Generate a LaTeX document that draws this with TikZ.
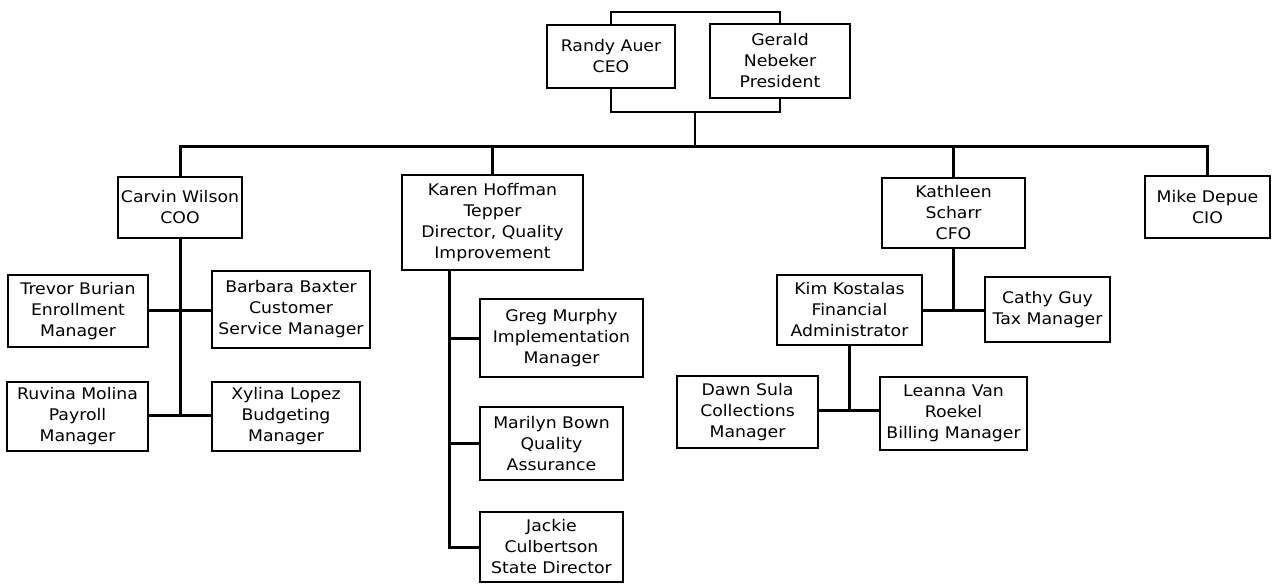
\documentclass[tikz,border=0pt]{standalone}
\usepackage{fontspec}
\setmainfont{DejaVu Sans}[FakeStretch=1.08]
\begin{document}
\begin{tikzpicture}[x=1pt,y=-1pt,
  box/.style={draw, line width=2.1pt, align=center, inner sep=1pt,
    font=\fontsize{16}{21}\selectfont},
  conn/.style={line width=3pt},
  thinconn/.style={line width=2pt}]
\useasboundingbox[fill=white] (0,0) rectangle (1278,584);
% boxes
\node[box, minimum width=128pt, minimum height=63pt] (ceo) at (611,56.5) {Randy Auer\\CEO};
\node[box, minimum width=140pt, minimum height=74pt] (pres) at (780,61) {Gerald\\Nebeker\\President};
\node[box, minimum width=124pt, minimum height=61pt] (coo) at (180,207.5) {Carvin Wilson\\COO};
\node[box, minimum width=140pt, minimum height=72pt] (trevor) at (78,311) {Trevor Burian\\Enrollment\\Manager};
\node[box, minimum width=158pt, minimum height=77pt] (barbara) at (291,309.5) {Barbara Baxter\\Customer\\Service Manager};
\node[box, minimum width=141pt, minimum height=69pt] (ruvina) at (77.5,416.5) {Ruvina Molina\\Payroll\\Manager};
\node[box, minimum width=148pt, minimum height=69pt] (xylina) at (286,416.5) {Xylina Lopez\\Budgeting\\Manager};
\node[box, minimum width=181pt, minimum height=95pt] (karen) at (492.5,222.5) {Karen Hoffman\\Tepper\\Director, Quality\\Improvement};
\node[box, minimum width=163pt, minimum height=78pt] (greg) at (561.5,338) {Greg Murphy\\Implementation\\Manager};
\node[box, minimum width=143pt, minimum height=73pt] (marilyn) at (551.5,443.5) {Marilyn Bown\\Quality\\Assurance};
\node[box, minimum width=143pt, minimum height=70pt] (jackie) at (551.5,547) {Jackie\\Culbertson\\State Director};
\node[box, minimum width=143pt, minimum height=70pt] (kathleen) at (953.5,213) {Kathleen\\Scharr\\CFO};
\node[box, minimum width=125pt, minimum height=62pt] (mike) at (1207.5,207) {Mike Depue\\CIO};
\node[box, minimum width=145pt, minimum height=70pt] (kim) at (849.5,310) {Kim Kostalas\\Financial\\Administrator};
\node[box, minimum width=125pt, minimum height=65pt] (cathy) at (1047.5,309.5) {Cathy Guy\\Tax Manager};
\node[box, minimum width=141pt, minimum height=72pt] (dawn) at (747.5,412) {Dawn Sula\\Collections\\Manager};
\node[box, minimum width=147pt, minimum height=73pt] (leanna) at (953.5,413.5) {Leanna Van\\Roekel\\Billing Manager};
% junction coordinates
\coordinate (tb) at (695,12);
\coordinate (bb) at (695,112);
\coordinate (bus) at (695,146);
\coordinate (cj1) at (180,310);
\coordinate (cj2) at (180,415);
\coordinate (kx) at (449,0);
\coordinate (kj) at (848,410);
% connectors
\draw[thinconn] (ceo.north) |- (tb) -| (pres.north);
\draw[thinconn] (ceo.south) |- (bb) -| (pres.south);
\draw[thinconn] (bb) -- (bus);
\draw[conn] (coo.north) |- (bus) -| (mike.north);
\draw[conn] (karen.north) -- (karen.north |- bus);
\draw[conn] (kathleen.north) -- (kathleen.north |- bus);
\draw[conn] (coo.south) -- (cj2);
\draw[conn] (trevor.east |- cj1) -- (barbara.west |- cj1);
\draw[conn] (ruvina.east |- cj2) -- (xylina.west |- cj2);
\draw[conn] (karen.south -| kx) |- (jackie.west);
\draw[conn] (greg.west) -- (greg.west -| kx);
\draw[conn] (marilyn.west) -- (marilyn.west -| kx);
\draw[conn] (kathleen.south) -- (kathleen.south |- kim.east);
\draw[conn] (kim.east) -- (cathy.west |- kim.east);
\draw[conn] (kim.south) -- (kim.south |- kj);
\draw[conn] (dawn.east |- kj) -- (leanna.west |- kj);
\end{tikzpicture}
\end{document}
